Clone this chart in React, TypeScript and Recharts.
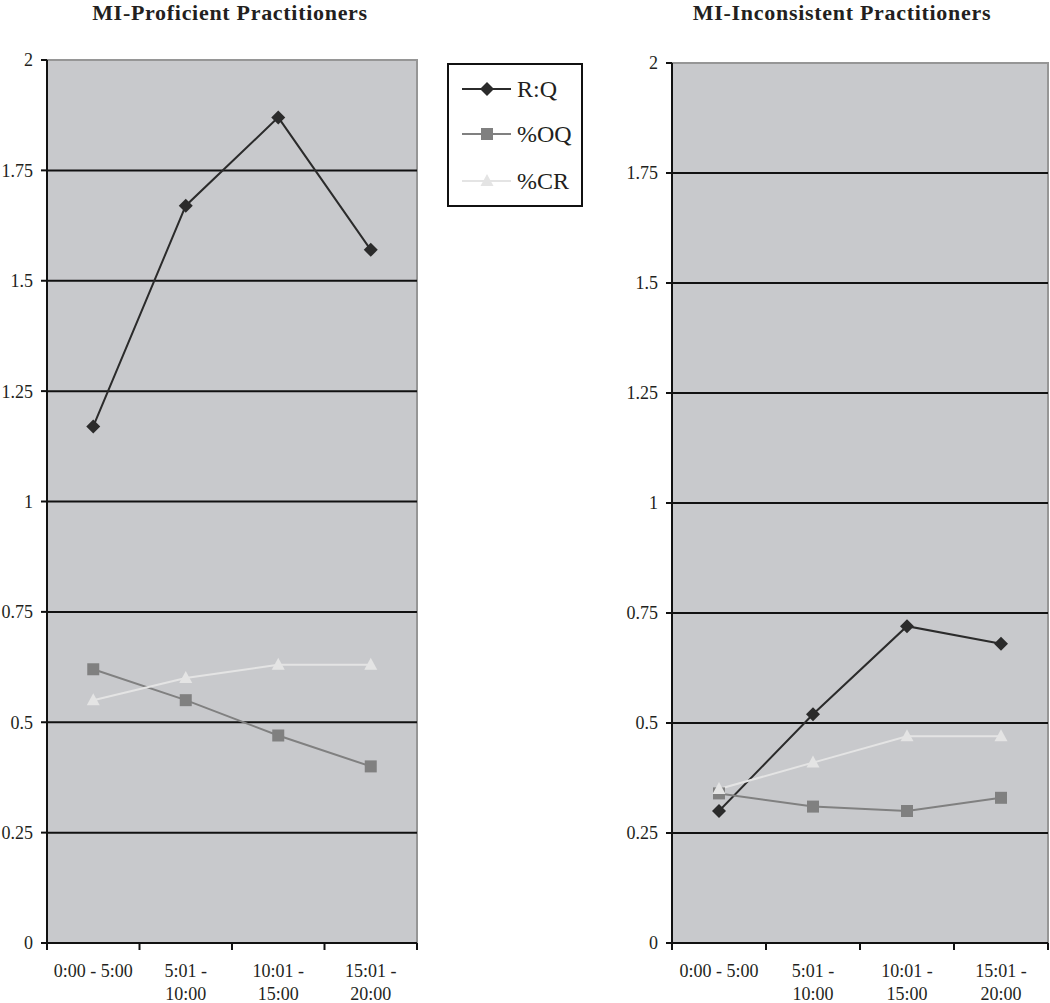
import React from 'react';
import { LineChart, Line, XAxis, YAxis, ReferenceLine, ReferenceArea } from 'recharts';

const categories = ['0:00 - 5:00', '5:01 - 10:00', '10:01 - 15:00', '15:01 - 20:00'];

const proficientRQ = [1.17, 1.67, 1.87, 1.57];
const proficientOQ = [0.62, 0.55, 0.47, 0.4];
const proficientCR = [0.55, 0.6, 0.63, 0.63];

const inconsistentRQ = [0.3, 0.52, 0.72, 0.68];
const inconsistentOQ = [0.34, 0.31, 0.3, 0.33];
const inconsistentCR = [0.35, 0.41, 0.47, 0.47];

const yTicks = [0, 0.25, 0.5, 0.75, 1, 1.25, 1.5, 1.75, 2];
const gridValues = [0.25, 0.5, 0.75, 1, 1.25, 1.5, 1.75];
const seriesNames = ['R:Q', '%OQ', '%CR'];
const titles = ['MI-Proficient Practitioners', 'MI-Inconsistent Practitioners'];

const SERIF = '"Liberation Serif", "Times New Roman", Times, serif';
const TEXT = '#231f20';
const PLOT_BG = '#c8c9cc';

const series = [
  { key: 'rq', name: seriesNames[0], color: '#2b2b2b', shape: 'diamond' },
  { key: 'oq', name: seriesNames[1], color: '#808080', shape: 'square' },
  { key: 'cr', name: seriesNames[2], color: '#e4e4e4', shape: 'triangle' },
];

function buildData(rq: number[], oq: number[], cr: number[]) {
  return categories.map((c, i) => ({ pos: i + 0.5, category: c, rq: rq[i], oq: oq[i], cr: cr[i] }));
}

const xTicks: number[] = [];
for (let i = 0; i <= categories.length; i++) {
  xTicks.push(i);
  if (i < categories.length) xTicks.push(i + 0.5);
}

function Marker({ cx, cy, shape, color }: any) {
  if (cx == null || cy == null) return null;
  if (shape === 'diamond') {
    return <polygon points={`${cx},${cy - 7} ${cx + 7},${cy} ${cx},${cy + 7} ${cx - 7},${cy}`} fill={color} />;
  }
  if (shape === 'square') {
    return <rect x={cx - 6} y={cy - 6} width={12} height={12} fill={color} />;
  }
  return <polygon points={`${cx},${cy - 7} ${cx + 6.5},${cy + 5} ${cx - 6.5},${cy + 5}`} fill={color} />;
}

function wrapLabel(label: string): string[] {
  if (label.length <= 11) return [label];
  const parts = label.split(' - ');
  return [parts[0] + ' -', parts[1]];
}

function XTick(props: any) {
  const { x, y, payload } = props;
  const v = payload.value;
  if (Number.isInteger(v)) {
    return <line x1={x} y1={y - 8} x2={x} y2={y - 1} stroke="#111" strokeWidth={2} />;
  }
  const lines = wrapLabel(categories[Math.floor(v)]);
  return (
    <text x={x} y={y} textAnchor="middle" fontSize={18} fill={TEXT} style={{ fontFamily: SERIF }}>
      {lines.map((l, i) => (
        <tspan key={i} x={x} y={y + 26 + i * 23}>
          {l}
        </tspan>
      ))}
    </text>
  );
}

function Panel({ data, width, yAxisWidth, marginTop, marginRight }: any) {
  return (
    <LineChart
      width={width}
      height={1003}
      data={data}
      margin={{ top: marginTop, right: marginRight, bottom: 0, left: 0 }}
      style={{ fontFamily: SERIF }}
    >
      <ReferenceArea
        x1={0}
        x2={categories.length}
        y1={0}
        y2={2}
        fill={PLOT_BG}
        fillOpacity={1}
        stroke="#969696"
        strokeWidth={2}
      />
      {gridValues.map((g) => (
        <ReferenceLine key={g} y={g} stroke="#111" strokeWidth={2} />
      ))}
      <XAxis
        type="number"
        dataKey="pos"
        domain={[0, categories.length]}
        ticks={xTicks}
        interval={0}
        height={60}
        tickLine={false}
        axisLine={{ stroke: '#111', strokeWidth: 2 }}
        tick={(p: any) => <XTick key={p.index} {...p} />}
      />
      <YAxis
        type="number"
        domain={[0, 2]}
        ticks={yTicks}
        interval={0}
        width={yAxisWidth}
        tickSize={6}
        tickMargin={8}
        axisLine={{ stroke: '#111', strokeWidth: 2 }}
        tickLine={{ stroke: '#111', strokeWidth: 2 }}
        tick={{ fontSize: 18, fill: TEXT, style: { fontFamily: SERIF } }}
      />
      {series.map((s) => (
        <Line
          key={s.key}
          type="linear"
          dataKey={s.key}
          name={s.name}
          stroke={s.color}
          strokeWidth={2}
          isAnimationActive={false}
          activeDot={false}
          dot={(p: any) => (
            <Marker key={`${s.key}-${p.index}`} cx={p.cx} cy={p.cy} shape={s.shape} color={s.color} />
          )}
        />
      ))}
    </LineChart>
  );
}

function LegendBox() {
  const rowY = [26, 71, 118];
  return (
    <svg width={136} height={144} style={{ position: 'absolute', left: 447, top: 63, fontFamily: SERIF }}>
      <rect x={1} y={1} width={134} height={142} fill="#fff" stroke="#111" strokeWidth={2} />
      {series.map((s, i) => (
        <g key={s.key}>
          <line x1={15} y1={rowY[i]} x2={64} y2={rowY[i]} stroke={s.color} strokeWidth={2} />
          <Marker cx={40} cy={rowY[i]} shape={s.shape} color={s.color} />
          <text x={70} y={rowY[i] + 8} fontSize={24} fill={TEXT} style={{ fontFamily: SERIF }}>
            {s.name}
          </text>
        </g>
      ))}
    </svg>
  );
}

export default function App() {
  const left = buildData(proficientRQ, proficientOQ, proficientCR);
  const right = buildData(inconsistentRQ, inconsistentOQ, inconsistentCR);
  const titleStyle: React.CSSProperties = {
    position: 'absolute',
    top: 0,
    fontFamily: SERIF,
    fontWeight: 'bold',
    fontSize: 22,
    lineHeight: '25px',
    letterSpacing: '0.7px',
    color: TEXT,
    textAlign: 'center',
    whiteSpace: 'nowrap',
  };
  return (
    <div
      style={{
        position: 'absolute',
        left: 0,
        top: 0,
        width: 1050,
        height: 1003,
        background: '#fff',
        overflow: 'hidden',
        fontFamily: SERIF,
      }}
    >
      <div style={{ ...titleStyle, left: 30, width: 400 }}>{titles[0]}</div>
      <div style={{ ...titleStyle, left: 642, width: 400 }}>{titles[1]}</div>
      <div style={{ position: 'absolute', left: 0, top: 0 }}>
        <Panel data={left} width={440} yAxisWidth={47} marginTop={60} marginRight={23} />
      </div>
      <div style={{ position: 'absolute', left: 600, top: 0 }}>
        <Panel data={right} width={450} yAxisWidth={72} marginTop={63} marginRight={2} />
      </div>
      <LegendBox />
    </div>
  );
}
